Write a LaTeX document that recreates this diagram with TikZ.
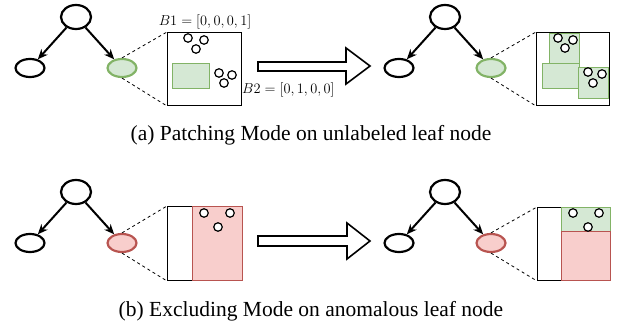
\documentclass[tikz,border=0pt]{standalone}
\usepackage{fontspec}
\setmainfont{Liberation Serif}
\usetikzlibrary{arrows.meta,shapes.geometric}
\definecolor{gfill}{HTML}{D5E8D4}
\definecolor{gdraw}{HTML}{82B366}
\definecolor{rfill}{HTML}{F8CECC}
\definecolor{rdraw}{HTML}{B85450}
\tikzset{
  tnode/.style={ellipse,draw=black,line width=2.2pt,minimum width=29pt,minimum height=18pt,inner sep=0pt},
  troot/.style={tnode,minimum width=30pt,minimum height=24pt},
  gleaf/.style={tnode,draw=gdraw,fill=gfill},
  rleaf/.style={tnode,draw=rdraw,fill=rfill},
  edge/.style={line width=2pt,-{Stealth[length=10pt,width=8.5pt]}},
  zoomline/.style={line width=0.8pt,dash pattern=on 3pt off 3pt},
  panel/.style={draw=black,line width=1pt},
  gpatch/.style={draw=gdraw,fill=gfill,line width=0.9pt},
  rpatch/.style={draw=rdraw,fill=rfill,line width=0.9pt},
  pt/.style={circle,draw=black,fill=white,line width=1.2pt,minimum size=8.5pt,inner sep=0pt},
  bigarrow/.style={draw=black,fill=white,line width=1.6pt,line join=miter},
  captext/.style={font=\fontsize{21.5}{24}\selectfont,anchor=base},
  blabel/.style={font=\fontsize{14}{16}\selectfont,inner sep=0pt}
}
\begin{document}
\begin{tikzpicture}[x=1pt,y=-1pt]
\useasboundingbox (0,0) rectangle (618,331);
% ===== (a) left =====
\node[troot] (r1) at (76,17) {};
\node[tnode] (l1) at (30,68) {};
\node[gleaf] (g1) at (122,68) {};
\draw[edge] (r1) -- (l1);
\draw[edge] (r1) -- (g1);
\node[panel,minimum width=74pt,minimum height=73pt,inner sep=0pt,anchor=north west] (b1) at (167,32) {};
\draw[zoomline] (g1.north) -- (b1.north west);
\draw[zoomline] (g1.south) -- (b1.south west);
\node[gpatch,minimum width=37pt,minimum height=25pt,inner sep=0pt,anchor=north west] (p1) at (172,63) {};
\node[pt] (c1) at (188,38) {};
\node[pt] (c2) at (204,40) {};
\node[pt] (c3) at (196,49) {};
\node[pt] (c4) at (219,73) {};
\node[pt] (c5) at (232,75) {};
\node[pt] (c6) at (224,83) {};
\node[blabel] (t1) at (205,22) {$B1=[0,0,0,1]$};
\node[blabel,anchor=west] (t2) at (242,90) {$B2=[0,1,0,0]$};
% big arrow (a)
\draw[bigarrow] (258,62) -- (346,62) -- (346,48) -- (370,66) -- (346,84) -- (346,71) -- (258,71) -- cycle;
% ===== (a) right =====
\node[troot] (r2) at (445,17) {};
\node[tnode] (l2) at (399,68) {};
\node[gleaf] (g2) at (491,68) {};
\draw[edge] (r2) -- (l2);
\draw[edge] (r2) -- (g2);
\node[panel,minimum width=73pt,minimum height=73pt,inner sep=0pt,anchor=north west] (b2) at (536,32) {};
\draw[zoomline] (g2.north) -- (b2.north west);
\draw[zoomline] (g2.south) -- (b2.south west);
\node[gpatch,minimum width=30pt,minimum height=30pt,inner sep=0pt,anchor=north west] (p2) at (549,33) {};
\node[gpatch,minimum width=37pt,minimum height=25pt,inner sep=0pt,anchor=north west] (p3) at (542,63) {};
\node[gpatch,minimum width=30pt,minimum height=31pt,inner sep=0pt,anchor=north west] (p4) at (578,67) {};
\node[pt] (d1) at (558,38) {};
\node[pt] (d2) at (573,40) {};
\node[pt] (d3) at (565,48) {};
\node[pt] (d4) at (588,72) {};
\node[pt] (d5) at (602,74) {};
\node[pt] (d6) at (593,83) {};
\node[captext] (capa) at (311,141) {(a) Patching Mode on unlabeled leaf node};
% ===== (b) left =====
\node[troot] (r3) at (76,192) {};
\node[tnode] (l3) at (30,243) {};
\node[rleaf] (e3) at (122,243) {};
\draw[edge] (r3) -- (l3);
\draw[edge] (r3) -- (e3);
\node[panel,minimum width=75pt,minimum height=74pt,inner sep=0pt,anchor=north west] (b3) at (167,206) {};
\draw[zoomline] (e3.north) -- (b3.north west);
\draw[zoomline] (e3.south) -- (b3.south west);
\node[rpatch,minimum width=50pt,minimum height=74pt,inner sep=0pt,anchor=north west] (q1) at (192,206) {};
\node[pt] (f1) at (204,213) {};
\node[pt] (f2) at (230,213) {};
\node[pt] (f3) at (218,227) {};
% big arrow (b)
\draw[bigarrow] (258,236) -- (347,236) -- (347,223) -- (370,241) -- (347,259) -- (347,246) -- (258,246) -- cycle;
% ===== (b) right =====
\node[troot] (r4) at (445,192) {};
\node[tnode] (l4) at (399,243) {};
\node[rleaf] (e4) at (491,243) {};
\draw[edge] (r4) -- (l4);
\draw[edge] (r4) -- (e4);
\node[panel,minimum width=73pt,minimum height=73pt,inner sep=0pt,anchor=north west] (b4) at (537,207) {};
\draw[zoomline] (e4.north) -- (b4.north west);
\draw[zoomline] (e4.south) -- (b4.south west);
\node[gpatch,minimum width=49pt,minimum height=24pt,inner sep=0pt,anchor=north west] (q2) at (561,207) {};
\node[rpatch,minimum width=49pt,minimum height=49pt,inner sep=0pt,anchor=north west] (q3) at (561,231) {};
\node[pt] (h1) at (573,213) {};
\node[pt] (h2) at (599,213) {};
\node[pt] (h3) at (588,227) {};
\node[captext] (capb) at (311,316) {(b) Excluding Mode on anomalous leaf node};
\end{tikzpicture}
\end{document}
